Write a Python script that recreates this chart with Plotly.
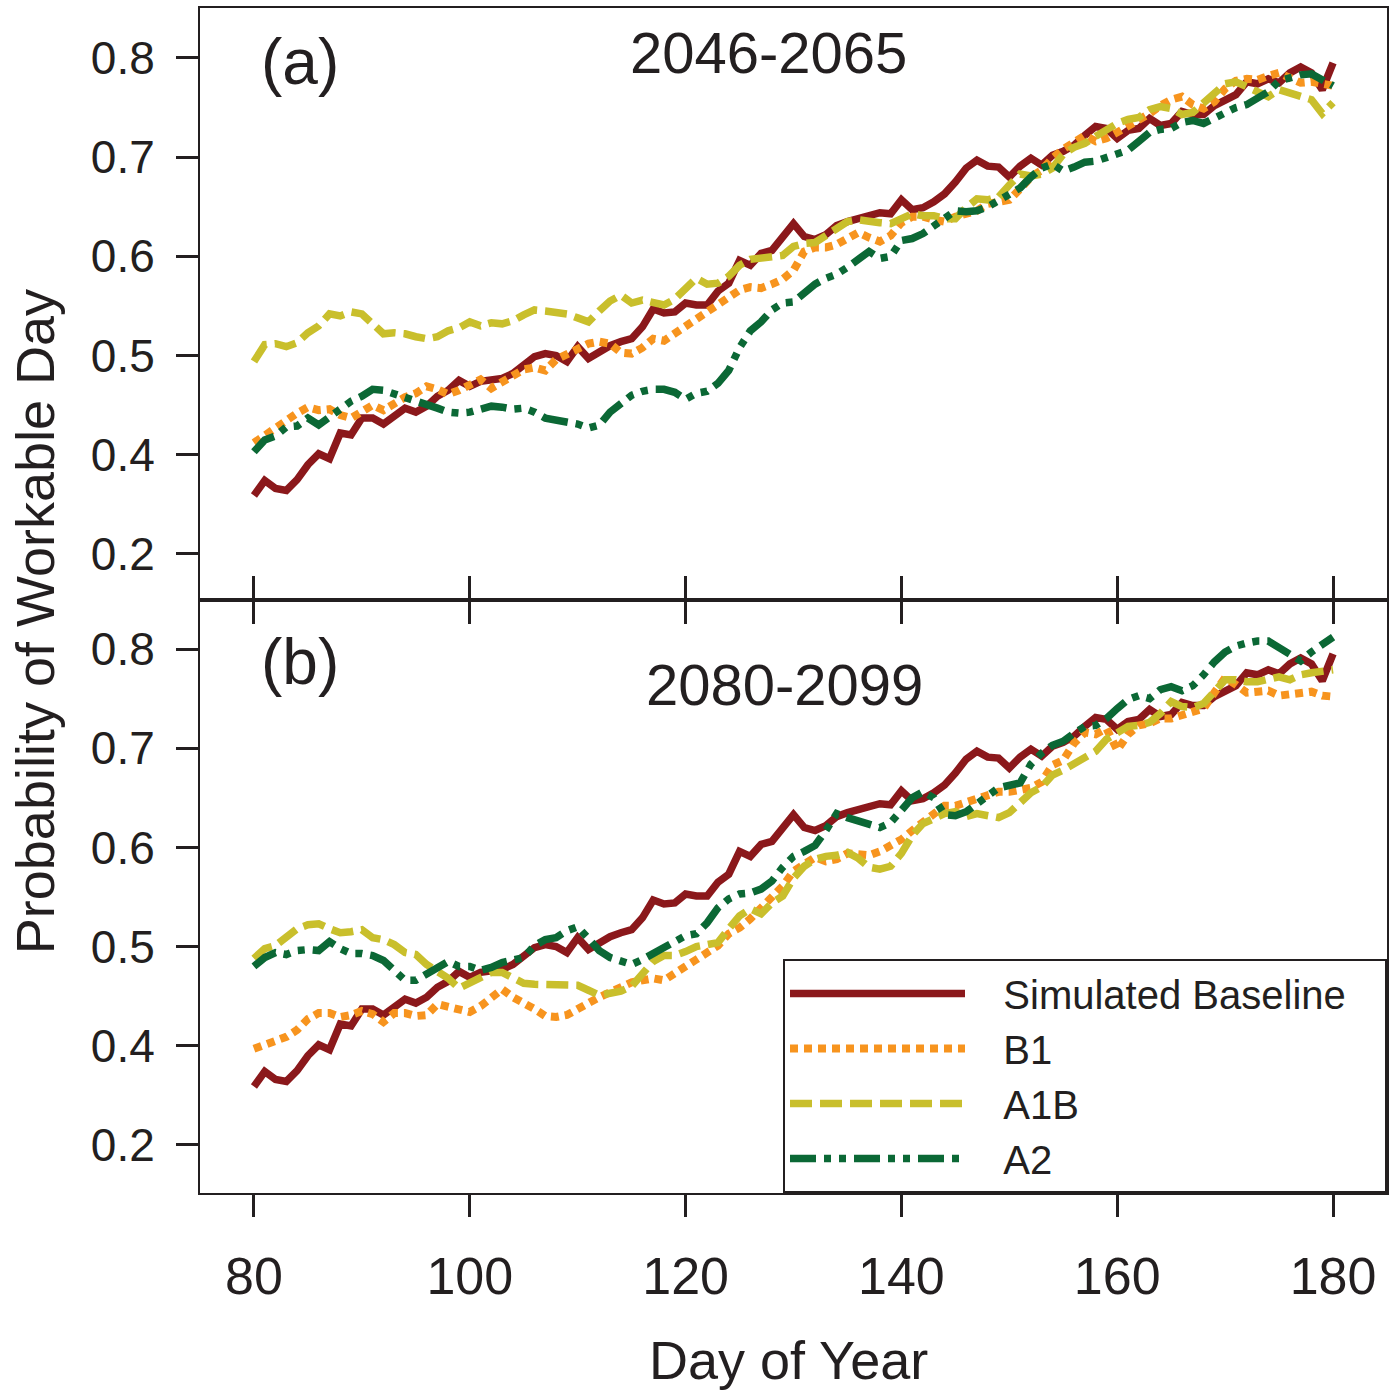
import plotly.graph_objects as go

days = list(range(80, 181))

baseline = [0.359, 0.374, 0.366, 0.364, 0.375, 0.390, 0.401, 0.396, 0.422, 0.420,
            0.437, 0.437, 0.431, 0.440, 0.447, 0.443, 0.449, 0.459, 0.465, 0.475,
            0.469, 0.474, 0.476, 0.477, 0.482, 0.490, 0.499, 0.502, 0.500, 0.494,
            0.509, 0.497, 0.504, 0.510, 0.514, 0.517, 0.529, 0.547, 0.543, 0.544,
            0.553, 0.551, 0.551, 0.565, 0.573, 0.596, 0.591, 0.603, 0.606, 0.619,
            0.633, 0.620, 0.617, 0.622, 0.631, 0.635, 0.638, 0.642, 0.644, 0.643,
            0.657, 0.647, 0.649, 0.655, 0.663, 0.675, 0.689, 0.697, 0.691, 0.690,
            0.680, 0.691, 0.699, 0.692, 0.702, 0.706, 0.712, 0.722, 0.731, 0.729,
            0.719, 0.727, 0.729, 0.739, 0.732, 0.734, 0.746, 0.743, 0.743, 0.752,
            0.757, 0.763, 0.776, 0.774, 0.779, 0.775, 0.785, 0.791, 0.785, 0.768,
            0.795]

# 2046-2065
b1_a = [0.412, 0.420, 0.426, 0.434, 0.442, 0.448, 0.445, 0.446, 0.440, 0.437,
        0.444, 0.450, 0.445, 0.452, 0.458, 0.462, 0.469, 0.466, 0.461, 0.465,
        0.471, 0.476, 0.467, 0.473, 0.480, 0.486, 0.488, 0.485, 0.496, 0.501,
        0.507, 0.512, 0.514, 0.512, 0.503, 0.502, 0.508, 0.517, 0.515, 0.522,
        0.530, 0.537, 0.545, 0.551, 0.557, 0.566, 0.569, 0.568, 0.572, 0.577,
        0.586, 0.605, 0.609, 0.609, 0.612, 0.618, 0.624, 0.619, 0.615, 0.621,
        0.634, 0.640, 0.640, 0.637, 0.635, 0.640, 0.643, 0.646, 0.653, 0.654,
        0.657, 0.668, 0.680, 0.687, 0.699, 0.708, 0.716, 0.722, 0.716, 0.719,
        0.725, 0.731, 0.736, 0.744, 0.752, 0.758, 0.761, 0.753, 0.749, 0.756,
        0.769, 0.777, 0.779, 0.778, 0.782, 0.785, 0.780, 0.775, 0.776, 0.773,
        0.772]
a1b_a = [0.494, 0.511, 0.512, 0.509, 0.513, 0.523, 0.530, 0.542, 0.540, 0.544,
         0.542, 0.533, 0.522, 0.523, 0.522, 0.519, 0.517, 0.519, 0.525, 0.528,
         0.534, 0.530, 0.533, 0.532, 0.535, 0.541, 0.546, 0.545, 0.543, 0.542,
         0.538, 0.534, 0.545, 0.555, 0.561, 0.553, 0.556, 0.553, 0.551, 0.557,
         0.567, 0.578, 0.572, 0.573, 0.580, 0.591, 0.597, 0.598, 0.599, 0.601,
         0.610, 0.613, 0.614, 0.621, 0.627, 0.635, 0.637, 0.635, 0.634, 0.633,
         0.638, 0.643, 0.641, 0.641, 0.638, 0.638, 0.649, 0.658, 0.657, 0.660,
         0.672, 0.683, 0.681, 0.683, 0.689, 0.703, 0.710, 0.714, 0.721, 0.728,
         0.734, 0.738, 0.740, 0.748, 0.751, 0.749, 0.743, 0.745, 0.755, 0.766,
         0.774, 0.776, 0.771, 0.765, 0.761, 0.768, 0.764, 0.760, 0.758, 0.744,
         0.755]
a2_a = [0.403, 0.415, 0.419, 0.428, 0.429, 0.437, 0.430, 0.438, 0.446, 0.454,
        0.459, 0.466, 0.465, 0.461, 0.457, 0.455, 0.451, 0.447, 0.443, 0.442,
        0.443, 0.447, 0.449, 0.448, 0.446, 0.447, 0.443, 0.437, 0.435, 0.433,
        0.431, 0.427, 0.430, 0.443, 0.452, 0.460, 0.464, 0.466, 0.466, 0.463,
        0.456, 0.462, 0.464, 0.472, 0.485, 0.508, 0.525, 0.534, 0.546, 0.553,
        0.554, 0.564, 0.572, 0.578, 0.582, 0.589, 0.598, 0.605, 0.598, 0.600,
        0.616, 0.618, 0.623, 0.630, 0.637, 0.646, 0.645, 0.646, 0.650, 0.657,
        0.664, 0.669, 0.680, 0.689, 0.693, 0.686, 0.690, 0.695, 0.696, 0.700,
        0.705, 0.707, 0.716, 0.725, 0.728, 0.729, 0.735, 0.737, 0.734, 0.739,
        0.746, 0.750, 0.753, 0.759, 0.766, 0.777, 0.781, 0.783, 0.784, 0.777,
        0.772]

# 2080-2099
b1_b = [0.397, 0.402, 0.405, 0.409, 0.416, 0.427, 0.433, 0.433, 0.429, 0.431,
        0.435, 0.432, 0.424, 0.433, 0.433, 0.430, 0.431, 0.442, 0.439, 0.435,
        0.434, 0.440, 0.449, 0.457, 0.449, 0.444, 0.437, 0.430, 0.429, 0.431,
        0.436, 0.443, 0.449, 0.454, 0.461, 0.464, 0.466, 0.468, 0.466, 0.472,
        0.480, 0.487, 0.494, 0.501, 0.513, 0.519, 0.528, 0.539, 0.551, 0.561,
        0.576, 0.584, 0.590, 0.586, 0.588, 0.594, 0.594, 0.592, 0.596, 0.601,
        0.608, 0.617, 0.625, 0.633, 0.642, 0.642, 0.646, 0.648, 0.652, 0.656,
        0.656, 0.657, 0.660, 0.666, 0.683, 0.688, 0.705, 0.716, 0.714, 0.720,
        0.698, 0.714, 0.723, 0.725, 0.730, 0.730, 0.733, 0.738, 0.740, 0.756,
        0.771, 0.764, 0.756, 0.757, 0.758, 0.753, 0.754, 0.757, 0.757, 0.753,
        0.752]
a1b_b = [0.488, 0.498, 0.501, 0.510, 0.518, 0.522, 0.523, 0.518, 0.514, 0.515,
         0.517, 0.509, 0.507, 0.502, 0.494, 0.492, 0.482, 0.475, 0.468, 0.458,
         0.464, 0.470, 0.474, 0.474, 0.468, 0.463, 0.462, 0.462, 0.461, 0.462,
         0.461, 0.456, 0.451, 0.453, 0.455, 0.460, 0.474, 0.485, 0.491, 0.491,
         0.495, 0.500, 0.502, 0.504, 0.518, 0.531, 0.538, 0.533, 0.544, 0.551,
         0.569, 0.581, 0.588, 0.591, 0.592, 0.595, 0.589, 0.580, 0.578, 0.581,
         0.594, 0.612, 0.624, 0.630, 0.634, 0.636, 0.631, 0.634, 0.632, 0.630,
         0.635, 0.646, 0.655, 0.661, 0.673, 0.678, 0.684, 0.691, 0.697, 0.709,
         0.715, 0.722, 0.723, 0.726, 0.735, 0.747, 0.742, 0.741, 0.745, 0.757,
         0.769, 0.769, 0.767, 0.767, 0.769, 0.772, 0.769, 0.774, 0.776, 0.777,
         0.779]
a2_b = [0.480, 0.489, 0.494, 0.492, 0.496, 0.497, 0.496, 0.505, 0.498, 0.493,
        0.493, 0.491, 0.486, 0.475, 0.466, 0.466, 0.472, 0.480, 0.485, 0.480,
        0.480, 0.476, 0.479, 0.484, 0.486, 0.489, 0.501, 0.507, 0.509, 0.516,
        0.520, 0.507, 0.496, 0.489, 0.485, 0.482, 0.487, 0.494, 0.499, 0.505,
        0.511, 0.513, 0.524, 0.539, 0.548, 0.553, 0.554, 0.558, 0.566, 0.580,
        0.591, 0.596, 0.602, 0.617, 0.634, 0.630, 0.626, 0.624, 0.620, 0.625,
        0.639, 0.650, 0.656, 0.650, 0.633, 0.632, 0.636, 0.643, 0.652, 0.660,
        0.662, 0.665, 0.684, 0.695, 0.703, 0.707, 0.715, 0.722, 0.723, 0.730,
        0.740, 0.749, 0.753, 0.750, 0.759, 0.762, 0.758, 0.763, 0.774, 0.787,
        0.797, 0.803, 0.806, 0.808, 0.808, 0.801, 0.793, 0.788, 0.797, 0.804,
        0.812]

names = ["Simulated Baseline", "B1", "A1B", "A2"]
colors = ["#8b181b", "#f7941e", "#c9bf2c", "#0b6835"]
dashes = ["solid", "8px,6px", "22px,8px", "26px,8px,7px,8px,7px,8px"]
widths = [7.5, 8, 7.5, 7.5]

ytick_vals = [0.3, 0.4, 0.5, 0.6, 0.7, 0.8]
ytick_text = ["0.2", "0.4", "0.5", "0.6", "0.7", "0.8"]
xtick_vals = [80, 100, 120, 140, 160, 180]

FONT = "Liberation Sans, Arial, Helvetica, sans-serif"
INK = "#231f20"
NB = "\u00a0"

fig = go.Figure()
panels = [("x2", "y2", [baseline, b1_a, a1b_a, a2_a], False),
          ("x", "y", [baseline, b1_b, a1b_b, a2_b], True)]
for xa, ya, series, show in panels:
    for i, (name, vals, col, dsh, w) in enumerate(zip(names, series, colors, dashes, widths)):
        # pad legend labels so the text sits apart from the long line samples
        label = NB * 3 + name + (NB * 3 if i == 0 else "")
        fig.add_trace(go.Scatter(x=days, y=vals, mode="lines", name=label,
                                 xaxis=xa, yaxis=ya, showlegend=show,
                                 line=dict(color=col, width=w, dash=dsh)))

split = 593 / 1185
axis_common = dict(showline=True, linecolor=INK, linewidth=2, ticks="outside",
                   ticklen=22, tickwidth=3, tickcolor=INK, showgrid=False,
                   zeroline=False)
fig.update_layout(
    width=1393, height=1391,
    margin=dict(l=200, r=4, t=8, b=198),
    plot_bgcolor="white", paper_bgcolor="white",
    font=dict(family=FONT, color=INK),
    xaxis=dict(domain=[0, 1], anchor="y", range=[75, 185], tickvals=xtick_vals,
               mirror="ticks", tickfont=dict(size=52), ticklabelstandoff=15,
               **axis_common),
    xaxis2=dict(domain=[0, 1], anchor="y2", range=[75, 185], tickvals=xtick_vals,
                mirror=True, showticklabels=False, **axis_common),
    yaxis=dict(domain=[0, split], anchor="x", range=[0.2516, 0.8494],
               tickvals=ytick_vals, ticktext=ytick_text, mirror=True,
               tickfont=dict(size=46), ticklabelstandoff=12, **axis_common),
    yaxis2=dict(domain=[split, 1], anchor="x2", range=[0.2536, 0.8504],
                tickvals=ytick_vals, ticktext=ytick_text, mirror=True,
                tickfont=dict(size=46), ticklabelstandoff=12, **axis_common),
    legend=dict(x=1, xanchor="right", y=0, yanchor="bottom",
                bgcolor="white", bordercolor=INK, borderwidth=2,
                font=dict(size=40, family=FONT), itemwidth=175,
                traceorder="normal"),
)

annots = [
    ("2046-2065", 0.4786, 0.9625, 58, 0),
    ("(a)", 0.0841, 0.9544, 64, 0),
    ("2080-2099", 0.492, 0.4293, 58, 0),
    ("(b)", 0.0841, 0.448, 64, 0),
    ("Day of Year", 0.4962, -0.1409, 54, 0),
    ("Probability of Workable Day", -0.1388, 0.4819, 54, -90),
]
for text, ax, ay, size, ang in annots:
    fig.add_annotation(text=text, x=ax, y=ay, xref="paper", yref="paper",
                       xanchor="center", yanchor="middle", showarrow=False,
                       textangle=ang, font=dict(size=size, family=FONT, color=INK))

fig.write_html("out.html", config={"displayModeBar": False},
               post_script="document.body.style.margin='0px';")
